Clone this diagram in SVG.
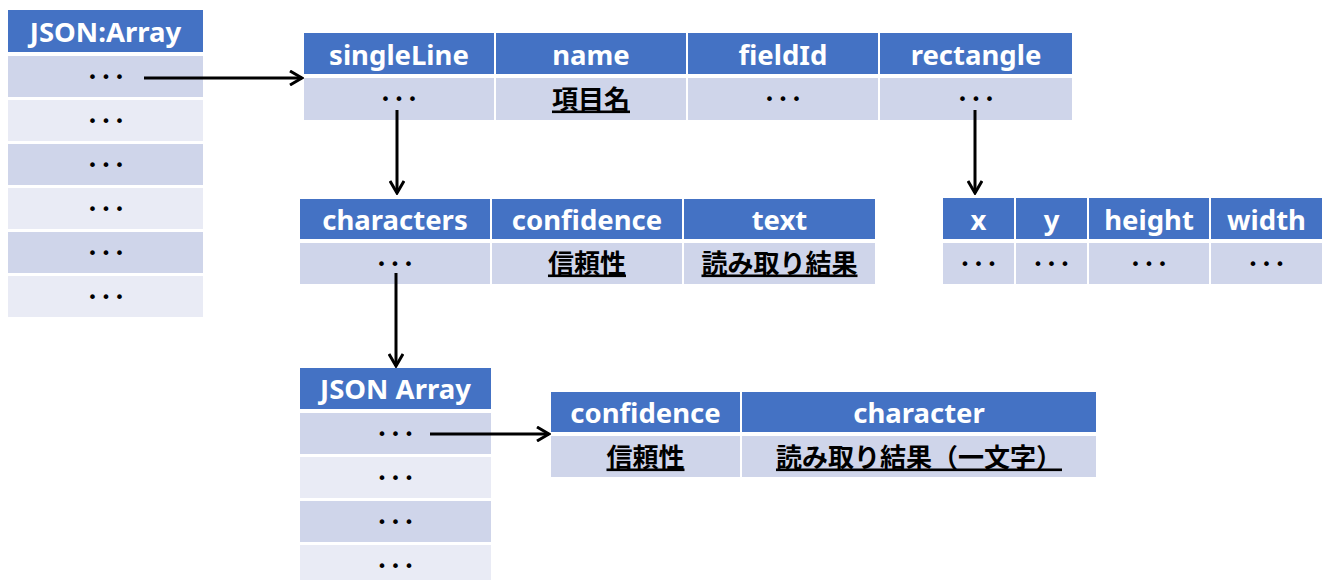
<svg xmlns="http://www.w3.org/2000/svg" width="1324" height="580" viewBox="0 0 1324 580">
<defs>
<style>
.h{fill:#4472C4}
.d{fill:#CFD5EA}
.l{fill:#E9EBF5}
.ht{font-family:"Noto Sans","Liberation Sans",sans-serif;font-weight:bold;font-size:27.5px;fill:#fff;text-anchor:middle}
.jt{font-family:"Noto Sans CJK JP",sans-serif;font-weight:bold;font-size:26px;fill:#000;text-anchor:middle;text-decoration:underline}
.dt{font-family:"DejaVu Sans",sans-serif;font-size:16px;letter-spacing:4px;fill:#000;text-anchor:middle}
.c{stroke:#000;stroke-width:3;fill:none;marker-end:url(#ah)}
</style>
<marker id="ah" viewBox="0 0 16 16" refX="14" refY="8" markerWidth="16" markerHeight="16" markerUnits="userSpaceOnUse" orient="auto">
<path d="M2,1 L14,8 L2,15" fill="none" stroke="#000" stroke-width="3"/>
</marker>
</defs>
<rect width="1324" height="580" fill="#fff"/>

<g id="json-array-1">
<rect class="h" x="8" y="10" width="195" height="42"/>
<text class="ht" x="105.5" y="42">JSON:Array</text>
<rect class="d" x="8" y="56" width="195" height="41"/>
<rect class="l" x="8" y="100" width="195" height="41"/>
<rect class="d" x="8" y="144" width="195" height="41"/>
<rect class="l" x="8" y="188" width="195" height="41"/>
<rect class="d" x="8" y="232" width="195" height="41"/>
<rect class="l" x="8" y="276" width="195" height="41"/>
<text class="dt" x="108" y="82.5">•••</text>
<text class="dt" x="108" y="126.5">•••</text>
<text class="dt" x="108" y="170.5">•••</text>
<text class="dt" x="108" y="214.5">•••</text>
<text class="dt" x="108" y="258.5">•••</text>
<text class="dt" x="108" y="302.5">•••</text>
</g>

<g id="field-table">
<rect class="h" x="304" y="33" width="190" height="41"/>
<rect class="h" x="496" y="33" width="190" height="41"/>
<rect class="h" x="688" y="33" width="190" height="41"/>
<rect class="h" x="880" y="33" width="192" height="41"/>
<text class="ht" x="399" y="65">singleLine</text>
<text class="ht" x="591" y="65">name</text>
<text class="ht" x="783" y="65">fieldId</text>
<text class="ht" x="976" y="65">rectangle</text>
<rect class="d" x="304" y="78" width="190" height="42"/>
<rect class="d" x="496" y="78" width="190" height="42"/>
<rect class="d" x="688" y="78" width="190" height="42"/>
<rect class="d" x="880" y="78" width="192" height="42"/>
<text class="dt" x="401" y="105">•••</text>
<text class="jt" x="591" y="108.5">項目名</text>
<text class="dt" x="785" y="105">•••</text>
<text class="dt" x="978" y="105">•••</text>
</g>

<g id="singleline-table">
<rect class="h" x="300" y="199" width="190" height="40"/>
<rect class="h" x="492" y="199" width="190" height="40"/>
<rect class="h" x="684" y="199" width="191" height="40"/>
<text class="ht" x="395" y="230">characters</text>
<text class="ht" x="587" y="230">confidence</text>
<text class="ht" x="779.5" y="230">text</text>
<rect class="d" x="300" y="243" width="190" height="41"/>
<rect class="d" x="492" y="243" width="190" height="41"/>
<rect class="d" x="684" y="243" width="191" height="41"/>
<text class="dt" x="397" y="269.5">•••</text>
<text class="jt" x="587" y="272.5">信頼性</text>
<text class="jt" x="779.5" y="272.5">読み取り結果</text>
</g>

<g id="rectangle-table">
<rect class="h" x="943" y="198" width="71" height="41"/>
<rect class="h" x="1016" y="198" width="71" height="41"/>
<rect class="h" x="1089" y="198" width="120" height="41"/>
<rect class="h" x="1211" y="198" width="111" height="41"/>
<text class="ht" x="978.5" y="230">x</text>
<text class="ht" x="1051.5" y="230">y</text>
<text class="ht" x="1149" y="230">height</text>
<text class="ht" x="1266.5" y="230">width</text>
<rect class="d" x="943" y="243" width="71" height="41"/>
<rect class="d" x="1016" y="243" width="71" height="41"/>
<rect class="d" x="1089" y="243" width="120" height="41"/>
<rect class="d" x="1211" y="243" width="111" height="41"/>
<text class="dt" x="980.5" y="269.5">•••</text>
<text class="dt" x="1053.5" y="269.5">•••</text>
<text class="dt" x="1151" y="269.5">•••</text>
<text class="dt" x="1268.5" y="269.5">•••</text>
</g>

<g id="json-array-2">
<rect class="h" x="300" y="368" width="191" height="41"/>
<text class="ht" x="395.5" y="399">JSON Array</text>
<rect class="d" x="300" y="413" width="191" height="41"/>
<rect class="l" x="300" y="457" width="191" height="41"/>
<rect class="d" x="300" y="501" width="191" height="41"/>
<rect class="l" x="300" y="545" width="191" height="41"/>
<text class="dt" x="397.5" y="439.5">•••</text>
<text class="dt" x="397.5" y="483.5">•••</text>
<text class="dt" x="397.5" y="527.5">•••</text>
<text class="dt" x="397.5" y="571.5">•••</text>
</g>

<g id="character-table">
<rect class="h" x="551" y="392" width="189" height="40"/>
<rect class="h" x="742" y="392" width="354" height="40"/>
<text class="ht" x="645.5" y="423">confidence</text>
<text class="ht" x="919" y="423">character</text>
<rect class="d" x="551" y="436" width="189" height="41"/>
<rect class="d" x="742" y="436" width="354" height="41"/>
<text class="jt" x="645.5" y="466.5">信頼性</text>
<text class="jt" x="919" y="466.5">読み取り結果（一文字）</text>
</g>

<g id="connectors">
<line class="c" x1="144" y1="78" x2="302" y2="78"/>
<line class="c" x1="397" y1="110" x2="397" y2="193"/>
<line class="c" x1="975" y1="110" x2="975" y2="193"/>
<line class="c" x1="396" y1="273" x2="396" y2="366"/>
<line class="c" x1="430" y1="434" x2="549" y2="434"/>
</g>
</svg>
